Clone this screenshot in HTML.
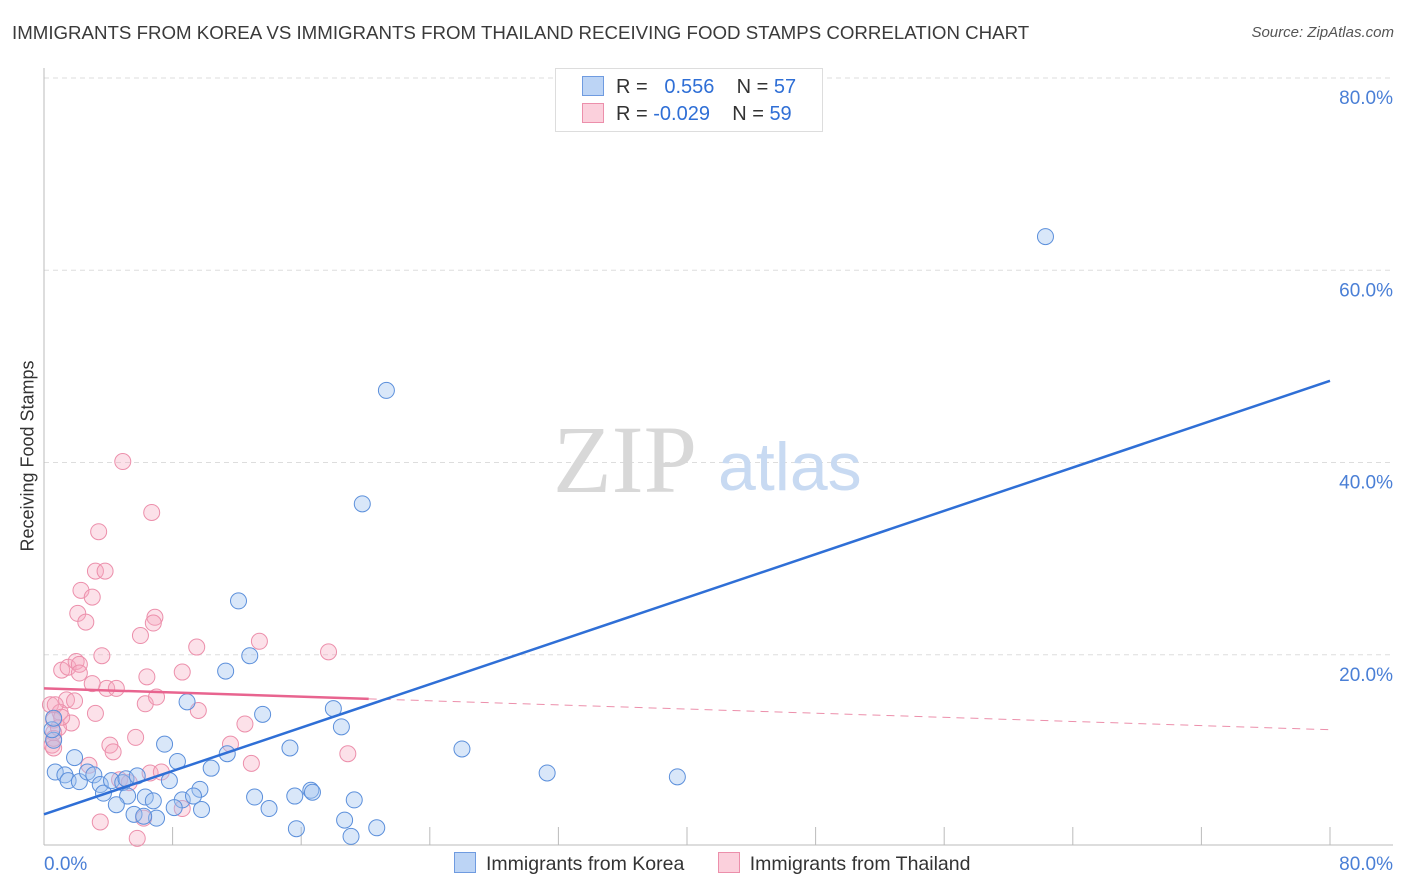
<!DOCTYPE html>
<html><head><meta charset="utf-8">
<style>
body{margin:0;background:#fff;font-family:"Liberation Sans",sans-serif;}
#wrap{position:relative;width:1406px;height:892px;overflow:hidden;}
.t{position:absolute;white-space:nowrap;}
</style></head>
<body><div id="wrap">
<div class="t" style="left:12px;top:22px;font-size:18.7px;color:#3a3a3a;">IMMIGRANTS FROM KOREA VS IMMIGRANTS FROM THAILAND RECEIVING FOOD STAMPS CORRELATION CHART</div>
<div class="t" style="right:12px;top:24px;font-size:15px;color:#555;font-style:italic;">Source: ZipAtlas.com</div>
<svg id="svg" width="1406" height="892" style="position:absolute;left:0;top:0"></svg>
</div>
<script>
const yTicks=[20,40,60,80];
const yTickLabels=["20.0%","40.0%","60.0%","80.0%"];
const xTickLabels=["0.0%","80.0%"];
const koreaX=[62.3,21.3,19.8,12.1,12.8,11.3,8.9,13.6,18.0,18.5,7.5,15.3,26.0,31.3,39.4,8.3,11.4,10.4,0.7,1.3,1.9,1.5,2.2,2.7,3.1,3.5,3.7,4.2,4.9,5.1,5.8,5.2,4.5,6.3,6.8,7.8,8.6,9.7,9.3,8.1,9.8,13.1,14.0,15.6,16.6,16.7,19.3,5.6,7.0,6.2,15.7,18.7,19.1,20.7,0.6,0.5,0.6];
const koreaY=[63.5,47.5,35.7,25.6,19.9,18.3,15.1,13.8,14.4,12.5,10.7,10.3,10.2,7.7,7.3,8.9,9.7,8.2,7.8,7.5,9.3,6.9,6.8,7.8,7.5,6.5,5.6,6.9,6.7,7.1,7.4,5.3,4.4,5.2,4.8,6.9,4.9,6.0,5.3,4.1,3.9,5.2,4.0,5.3,5.9,5.7,4.9,3.4,3.0,3.2,1.9,2.8,1.1,2.0,11.1,12.2,13.4];
const thaiX=[4.9,6.7,3.4,2.3,3.2,3.8,3.0,2.1,2.6,6.9,6.8,6.0,13.4,17.7,9.5,3.6,1.1,1.5,2.0,2.2,2.2,6.4,8.6,3.9,3.0,4.5,6.3,9.6,12.5,7.0,1.4,1.9,0.4,1.0,0.7,3.2,1.7,0.6,0.6,0.5,5.7,4.1,4.3,11.6,18.9,12.9,2.8,4.7,6.6,7.3,5.3,8.6,6.2,3.5,5.8,0.6,0.9,0.6,1.1];
const thaiY=[40.1,34.8,32.8,26.7,28.7,28.7,26.0,24.3,23.4,23.9,23.3,22.0,21.4,20.3,20.8,19.9,18.4,18.7,19.3,19.0,18.1,17.7,18.2,16.5,17.0,16.5,14.9,14.2,12.8,15.6,15.3,15.2,14.8,14.0,14.8,13.9,12.9,13.2,11.9,10.6,11.4,10.6,9.9,10.7,9.7,8.7,8.5,7.0,7.7,7.8,6.7,4.0,3.0,2.6,0.9,11.3,12.4,10.3,13.5];
const koreaLine=[3.4,48.5];
const thaiLine=[16.5,12.2];
const thaiSolidEnd=20.2;

const NS="http://www.w3.org/2000/svg",svg=document.getElementById('svg');
const X0=44,X1=1330,Y0=847,Y80=78;
const xs=v=>X0+(X1-X0)*v/80, ys=v=>Y0-(Y0-Y80)*v/80;
function mk(tag,a){const e=document.createElementNS(NS,tag);for(const k in a)e.setAttribute(k,a[k]);svg.appendChild(e);return e;}
yTicks.forEach((t,i)=>{
 const g=mk('line',{x1:X0,x2:1393,y1:ys(t),y2:ys(t),stroke:'#ddd','stroke-dasharray':'5,4'});
 
 
 const tx=mk('text',{x:1393,y:ys(t)+26,'text-anchor':'end','font-size':19,fill:'#4a7fd6','font-family':'Liberation Sans'});
 tx.textContent=yTickLabels[i];
 
 
});
let ax=mk('line',{x1:X0,x2:X0,y1:68,y2:845,stroke:'#bbb'});


ax=mk('line',{x1:X0,x2:1393,y1:845,y2:845,stroke:'#bbb'});


for(let i=0;i<=10;i++){const t=mk('line',{x1:xs(i*8),x2:xs(i*8),y1:827,y2:845,stroke:'#bbb'});
 
 }
[[0,'start',44],[80,'end',1393]].forEach((d,i)=>{const tx=mk('text',{x:d[2],y:870,'text-anchor':d[1],'font-size':19,fill:'#4a7fd6','font-family':'Liberation Sans'});tx.textContent=xTickLabels[i];
 
 });
let w=mk('text',{x:553,y:492,'font-size':96,fill:'#d8d8d8','font-family':'Liberation Serif'});w.textContent='ZIP';


w=mk('text',{x:718,y:490,'font-size':68,fill:'#c8daf2','font-family':'Liberation Sans'});w.textContent='atlas';


thaiX.forEach((x,i)=>{const c=mk('circle',{cx:xs(x),cy:ys(thaiY[i]),r:8,fill:'rgba(245,170,192,0.35)',stroke:'#ec8fab','stroke-width':1});
 
 });
koreaX.forEach((x,i)=>{const c=mk('circle',{cx:xs(x),cy:ys(koreaY[i]),r:8,fill:'rgba(160,196,240,0.4)',stroke:'#5b8fdb','stroke-width':1});
 
 });
const tl=x=>thaiLine[0]+(thaiLine[1]-thaiLine[0])*x/80;
let l=mk('line',{x1:xs(thaiSolidEnd),y1:ys(tl(thaiSolidEnd)),x2:xs(80),y2:ys(tl(80)),stroke:'#ec8fab','stroke-width':1,'stroke-dasharray':'8,6'});


l=mk('line',{x1:xs(0),y1:ys(tl(0)),x2:xs(thaiSolidEnd),y2:ys(tl(thaiSolidEnd)),stroke:'#e8648f','stroke-width':2.5});


l=mk('line',{x1:xs(0),y1:ys(koreaLine[0]),x2:xs(80),y2:ys(koreaLine[1]),stroke:'#2f6fd6','stroke-width':2.5});


</script>
<div class="t" style="left:28px;top:456px;transform:translate(-50%,-50%) rotate(-90deg);font-size:18px;color:#333;">Receiving Food Stamps</div>
<div style="position:absolute;left:555px;top:68px;width:266px;height:62px;border:1px solid #ddd;background:#fff;font-size:20px;color:#333;">
 <div style="position:absolute;left:26px;top:7px;white-space:nowrap;"><span style="display:inline-block;width:20px;height:18px;background:#bcd4f5;border:1px solid #6f9be0;vertical-align:-3px;margin-right:12px"></span>R = &nbsp;<span style="color:#2f6fd6">&nbsp;0.556</span>&nbsp;&nbsp;&nbsp; N = <span style="color:#2f6fd6">57</span></div>
 <div style="position:absolute;left:26px;top:34px;white-space:nowrap;"><span style="display:inline-block;width:20px;height:18px;background:#fbd0dc;border:1px solid #ec8fab;vertical-align:-3px;margin-right:12px"></span>R = <span style="color:#2f6fd6">-0.029</span>&nbsp;&nbsp;&nbsp; N = <span style="color:#2f6fd6">59</span></div>
</div>
<div style="position:absolute;left:454px;top:852px;font-size:19.5px;color:#333;white-space:nowrap;">
 <span><span style="display:inline-block;width:20px;height:19px;background:#bcd4f5;border:1px solid #6f9be0;vertical-align:-3px;margin-right:10px"></span>Immigrants from Korea</span>
 <span style="margin-left:28px"><span style="display:inline-block;width:20px;height:19px;background:#fbd0dc;border:1px solid #ec8fab;vertical-align:-3px;margin-right:10px"></span>Immigrants from Thailand</span>
</div>
</body></html>
